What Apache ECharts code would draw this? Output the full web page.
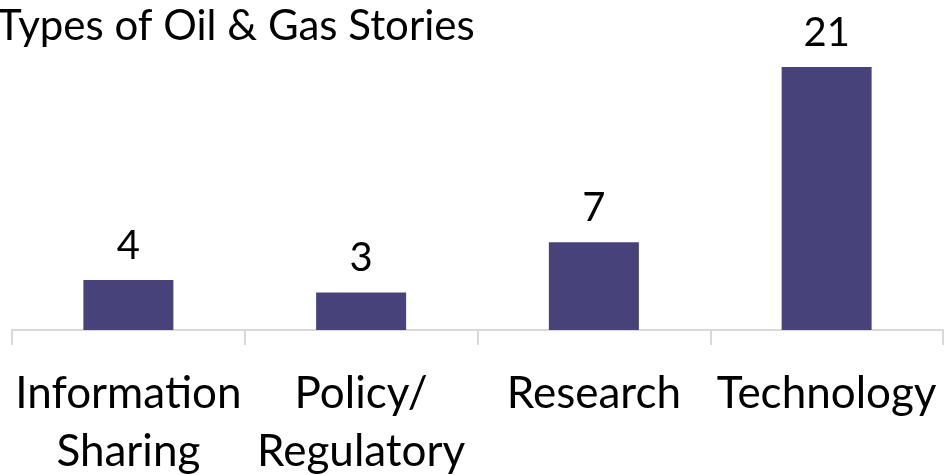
<!DOCTYPE html>
<html>
<head>
<meta charset="utf-8">
<script src="https://cdn.jsdelivr.net/npm/echarts@6/dist/echarts.min.js"></script>
<style>
  html, body { margin: 0; padding: 0; background: #fff; }
  #box { width: 945px; height: 475px; }
</style>
</head>
<body>
<div id="box"></div>
<script>
var categories = ['Information\nSharing', 'Policy/\nRegulatory', 'Research', 'Technology'];
var stories = [4, 3, 7, 21];

var font = 'Lato, "Open Sans", sans-serif';
var chart = echarts.init(document.getElementById('box'));
var option = {
    animation: false,
    title: {
        text: 'Types of Oil & Gas Stories',
        left: -8,
        top: 0,
        textStyle: { fontFamily: font, fontSize: 42, fontWeight: 'normal', color: '#000' }
    },
    grid: { left: 12, right: 2, top: 67, bottom: 145, outerBoundsMode: 'none', containLabel: false },
    xAxis: {
        type: 'category',
        data: categories,
        axisLine: { show: true, lineStyle: { color: '#d9d9d9', width: 2 } },
        axisTick: { show: true, length: 15, lineStyle: { color: '#d9d9d9', width: 2 } },
        axisLabel: {
            interval: 0,
            margin: 35,
            fontFamily: font,
            fontSize: 44,
            lineHeight: 58,
            color: '#000'
        }
    },
    yAxis: {
        type: 'value',
        min: 0,
        max: 21,
        show: false
    },
    series: [{
        type: 'bar',
        data: stories,
        barWidth: 90,
        itemStyle: { color: '#47437a' },
        label: {
            show: true,
            position: 'top',
            distance: 14,
            fontFamily: font,
            fontSize: 40,
            color: '#000'
        }
    }]
};
chart.setOption(option);
</script>
</body>
</html>
